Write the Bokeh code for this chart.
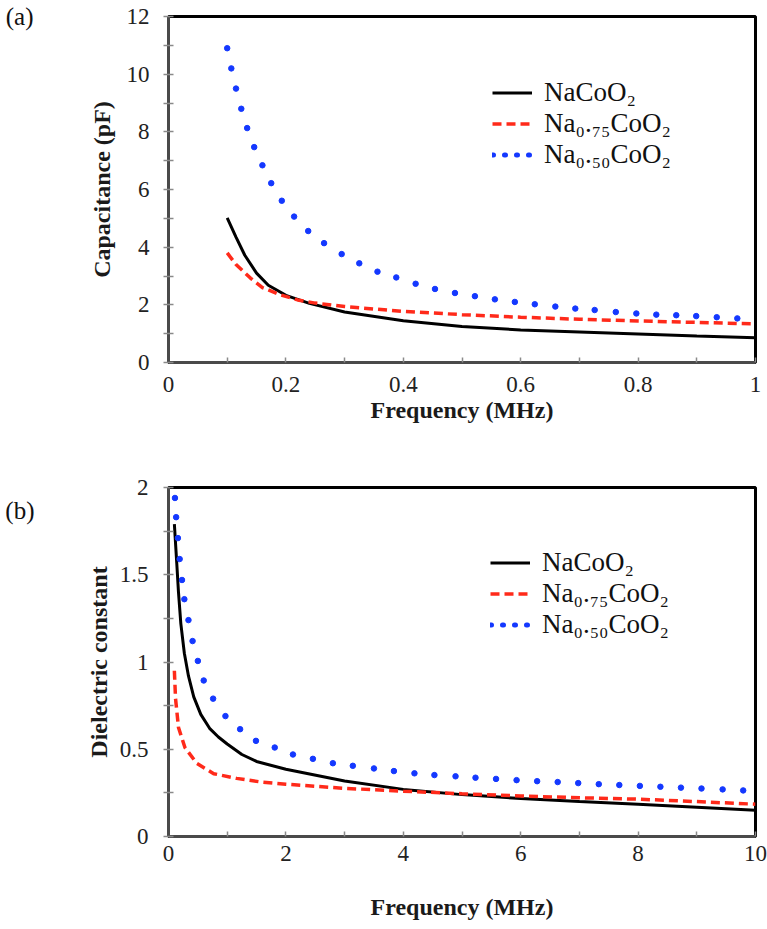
from bokeh.plotting import figure
from bokeh.models import (Range1d, FixedTicker, CustomJSTickFormatter, Legend,
                          LegendItem, LinearAxis)
from bokeh.layouts import column
from bokeh.embed import file_html
from bokeh.resources import INLINE

# ---------------- data: panel (a) capacitance vs frequency ----------------
freq_a_black = [0.1, 0.115, 0.13, 0.15, 0.17, 0.2, 0.24, 0.3, 0.4, 0.5, 0.6, 0.7, 0.8, 0.9, 1.0]
cap_nacoo2 = [5.02, 4.35, 3.72, 3.1, 2.68, 2.33, 2.05, 1.75, 1.45, 1.25, 1.13, 1.06, 0.99, 0.92, 0.86]

freq_a_red = [0.1, 0.115, 0.14, 0.16, 0.19, 0.22, 0.25, 0.3, 0.4, 0.5, 0.6, 0.7, 0.8, 0.9, 1.0]
cap_na075 = [3.8, 3.4, 2.92, 2.6, 2.35, 2.17, 2.06, 1.94, 1.77, 1.66, 1.57, 1.5, 1.44, 1.39, 1.34]

freq_a_blue = [0.1, 0.107, 0.115, 0.124, 0.134, 0.146, 0.16, 0.175, 0.193, 0.214, 0.238,
               0.265, 0.295, 0.325, 0.356, 0.388, 0.421, 0.454, 0.488, 0.522, 0.556,
               0.59, 0.624, 0.659, 0.693, 0.726, 0.762, 0.797, 0.831, 0.865, 0.899, 0.934, 0.969]
cap_na050 = [10.9, 10.2, 9.5, 8.8, 8.13, 7.47, 6.84, 6.22, 5.61, 5.06, 4.56,
             4.14, 3.76, 3.44, 3.15, 2.95, 2.73, 2.55, 2.41, 2.30, 2.19,
             2.10, 2.02, 1.94, 1.87, 1.82, 1.75, 1.70, 1.66, 1.64, 1.61, 1.57, 1.53]

# ---------------- data: panel (b) dielectric constant vs frequency ----------------
freq_b_black = [0.1, 0.14, 0.17, 0.21, 0.27, 0.34, 0.43, 0.55, 0.7, 0.85, 1.0, 1.25, 1.5,
                2, 3, 4, 5, 6, 7, 8, 9, 10]
eps_nacoo2 = [1.79, 1.57, 1.40, 1.22, 1.05, 0.92, 0.80, 0.70, 0.62, 0.57, 0.53, 0.47, 0.43,
              0.385, 0.318, 0.27, 0.24, 0.218, 0.2, 0.185, 0.168, 0.15]

freq_b_red = [0.1, 0.12, 0.17, 0.28, 0.48, 0.77, 1.16, 1.56, 2, 3, 4, 5, 6, 7, 8, 9, 10]
eps_na075 = [0.95, 0.79, 0.625, 0.51, 0.42, 0.36, 0.333, 0.313, 0.30, 0.276, 0.26,
             0.245, 0.232, 0.222, 0.214, 0.2, 0.185]

freq_b_blue = [0.11, 0.13, 0.16, 0.19, 0.23, 0.27, 0.34, 0.41, 0.50, 0.60, 0.76, 0.97, 1.22,
               1.49, 1.81, 2.12, 2.46, 2.80, 3.14, 3.50, 3.84, 4.19, 4.53, 4.89, 5.23, 5.58,
               5.93, 6.28, 6.63, 6.98, 7.33, 7.68, 8.03, 8.38, 8.73, 9.08, 9.44, 9.79]
eps_na050 = [1.94, 1.83, 1.71, 1.59, 1.47, 1.36, 1.24, 1.12, 1.006, 0.894, 0.79, 0.69, 0.615,
             0.548, 0.51, 0.47, 0.445, 0.42, 0.405, 0.39, 0.375, 0.362, 0.352, 0.345, 0.337,
             0.33, 0.323, 0.317, 0.312, 0.306, 0.30, 0.295, 0.29, 0.285, 0.28, 0.275, 0.27, 0.264]

series_labels = ["NaCoO\u2082", "Na\u2080.\u2087\u2085CoO\u2082", "Na\u2080.\u2085\u2080CoO\u2082"]
panel_tags = ["(a)", "(b)"]

xticks_a = [0, 0.2, 0.4, 0.6, 0.8, 1.0]
xminor_a = [0.1, 0.3, 0.5, 0.7, 0.9]
yticks_a = [0, 2, 4, 6, 8, 10, 12]
yminor_a = [1, 3, 5, 7, 9, 11]
xticks_b = [0, 2, 4, 6, 8, 10]
xminor_b = [1, 3, 5, 7, 9]
yticks_b = [0, 0.5, 1, 1.5, 2]
yminor_b = [0.25, 0.75, 1.25, 1.75]

SERIF = "Liberation Serif"
BLACK = "#000000"
RED = "#ff2a1a"
BLUE = "#1438ff"


def make_panel(height, xr, yr, xt, xm, yt, ym, borders, xlabel, ylabel,
               x_lab_standoff, y_lab_standoff, x_tick_standoff, y_tick_standoff):
    p = figure(width=767, height=height, output_backend="svg", toolbar_location=None,
               x_range=Range1d(*xr), y_range=Range1d(*yr),
               min_border_left=borders[0], min_border_right=borders[1],
               min_border_top=borders[2], min_border_bottom=borders[3])
    p.grid.visible = False
    p.background_fill_color = "white"
    p.border_fill_color = "white"
    p.outline_line_color = "black"
    p.outline_line_width = 3
    p.xaxis.ticker = FixedTicker(ticks=xt, minor_ticks=xm)
    p.yaxis.ticker = FixedTicker(ticks=yt, minor_ticks=ym)
    fmt = CustomJSTickFormatter(code="return String(Math.round(tick*100)/100);")
    for ax in (p.xaxis, p.yaxis):
        ax.formatter = fmt
        ax.axis_line_color = "#4a4a4a"
        ax.axis_line_width = 3
        ax.major_tick_line_color = "#8a8a8a"
        ax.minor_tick_line_color = "#8a8a8a"
        ax.major_tick_line_width = 1.5
        ax.minor_tick_line_width = 1.5
        ax.major_label_text_font = SERIF
        ax.major_label_text_font_size = "23px"
        ax.major_label_text_color = "#222222"
        ax.axis_label_text_font = SERIF
        ax.axis_label_text_font_style = "bold"
        ax.axis_label_text_font_size = "24px"
        ax.axis_label_text_color = "#1a1a1a"
    p.xaxis.major_tick_in = 5
    p.xaxis.major_tick_out = 0
    p.xaxis.minor_tick_in = 5
    p.xaxis.minor_tick_out = 0
    p.yaxis.major_tick_in = 5
    p.yaxis.major_tick_out = 5
    p.yaxis.minor_tick_in = 5
    p.yaxis.minor_tick_out = 5
    p.xaxis.major_label_standoff = x_tick_standoff
    p.yaxis.major_label_standoff = y_tick_standoff
    p.xaxis.axis_label = xlabel
    p.yaxis.axis_label = ylabel
    p.xaxis.axis_label_standoff = x_lab_standoff
    p.yaxis.axis_label_standoff = y_lab_standoff
    return p


def add_tag(p, tag, at, standoff):
    # panel tag "(a)"/"(b)" drawn as the single label of an extra, line-less left axis
    tag_axis = LinearAxis(ticker=FixedTicker(ticks=[at], minor_ticks=[]),
                          formatter=CustomJSTickFormatter(code="return '%s';" % tag))
    tag_axis.axis_line_color = None
    tag_axis.major_tick_line_color = None
    tag_axis.minor_tick_line_color = None
    tag_axis.major_label_standoff = standoff
    tag_axis.major_label_orientation = "horizontal"
    tag_axis.major_label_text_font = SERIF
    tag_axis.major_label_text_font_size = "25px"
    tag_axis.major_label_text_color = "#111111"
    p.add_layout(tag_axis, "left")


def add_series(p, fx_k, y_k, fx_r, y_r, fx_b, y_b, loc):
    r_k = p.line(fx_k, y_k, line_color=BLACK, line_width=3)
    r_r = p.line(fx_r, y_r, line_color=RED, line_width=3.5, line_dash="9 5")
    p.scatter(fx_b, y_b, size=5.5, fill_color=BLUE, line_color=BLUE)
    r_bl = p.line(fx_b[:1], y_b[:1], line_color=BLUE, line_width=5,
                  line_dash="1 11", line_cap="round")
    legend = Legend(items=[LegendItem(label=series_labels[0], renderers=[r_k]),
                           LegendItem(label=series_labels[1], renderers=[r_r]),
                           LegendItem(label=series_labels[2], renderers=[r_bl])],
                    location=loc, orientation="vertical")
    legend.border_line_alpha = 0
    legend.background_fill_alpha = 0
    legend.padding = 0
    legend.margin = 0
    legend.spacing = 0
    legend.glyph_width = 40
    legend.glyph_height = 31
    legend.label_height = 31
    legend.label_standoff = 12
    legend.label_text_font = SERIF
    legend.label_text_font_size = "27px"
    legend.label_text_color = "#111111"
    p.add_layout(legend, "center")


# panel (a)
pa = make_panel(440, (0, 1), (0, 12), xticks_a, xminor_a, yticks_a, yminor_a,
                (165, 7, 16, 78), "Frequency (MHz)", "Capacitance (pF)", 2, 9, 14, 14)
add_series(pa, freq_a_black, cap_nacoo2, freq_a_red, cap_na075, freq_a_blue, cap_na050, (324, 192))
add_tag(pa, panel_tags[0], 12, 46)

# panel (b)
pb = make_panel(489, (0, 10), (0, 2), xticks_b, xminor_b, yticks_b, yminor_b,
                (168, 12, 47, 93), "Frequency (MHz)", "Dielectric constant", 30, 5, 9, 15)
add_series(pb, freq_b_black, eps_nacoo2, freq_b_red, eps_na075, freq_b_blue, eps_na050, (322, 196))
add_tag(pb, panel_tags[1], 1.868, 42)

layout = column(pa, pb, spacing=0)
open("out.html", "w").write(file_html(layout, INLINE))
